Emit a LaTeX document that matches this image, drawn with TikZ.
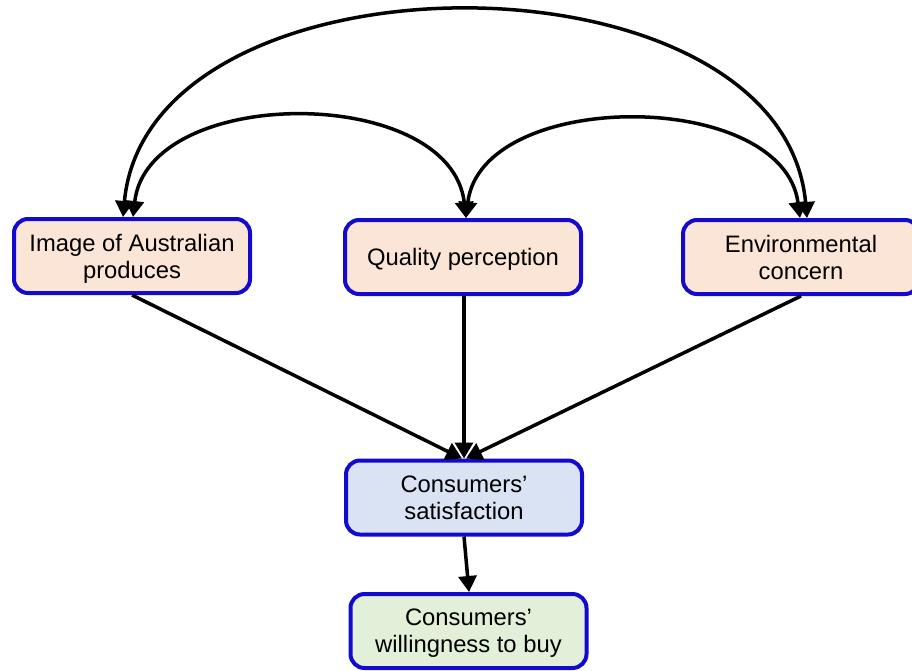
\documentclass[tikz,border=0pt]{standalone}
\usepackage{fontspec}
\setmainfont{Liberation Sans}
\usetikzlibrary{arrows.meta}
\definecolor{boxline}{RGB}{20,10,205}
\definecolor{peach}{RGB}{251,229,214}
\definecolor{paleblue}{RGB}{218,227,243}
\definecolor{palegreen}{RGB}{226,240,217}
\begin{document}
\begin{tikzpicture}[x=1pt,y=-1pt,
  box/.style={draw=boxline, line width=4pt, rounded corners=14pt,
    minimum width=236pt, minimum height=74pt, inner sep=0pt, align=center,
    font=\fontsize{23.8}{27}\selectfont},
  tip/.tip={Triangle[length=16pt,width=18pt]},
  link/.style={line width=3.5pt, -tip},
  twoway/.style={line width=3.5pt, tip-tip}]
\useasboundingbox (0,0) rectangle (912,670);
\clip (0,0) rectangle (912,670);

% factors
\node[box, fill=peach, text depth=-10pt] (img)  at (132,256) {Image of Australian\\produces};
\node[box, fill=peach, text depth=-10pt] (qual) at (463,257) {Quality perception};
\node[box, fill=peach, text depth=-4pt]  (env)  at (801,257) {Environmental\\concern};

% outcomes
\node[box, fill=paleblue]  (sat)  at (464,497.5) {Consumers’\\satisfaction};
\node[box, fill=palegreen, text depth=-10pt] (will) at (468.5,631) {Consumers’\\willingness to buy};

% correlations between the factors
\draw[twoway] ([xshift=-9pt]img.north) .. controls (148,-57) and (782,-57) .. ([xshift=6pt]env.north);
\draw[twoway] ([xshift=1pt]img.north) .. controls (148,84) and (451,84) .. ([xshift=3pt]qual.north);
\draw[twoway] ([xshift=3pt]qual.north) .. controls (481,88) and (783,88) .. ([xshift=-1pt]env.north);

% effects on satisfaction
\draw[link] (img.south) -- ([xshift=-2pt]sat.north);
\draw[link] ([xshift=1pt]qual.south) -- (sat.north);
\draw[link] (env.south) -- ([xshift=2pt]sat.north);
\draw[link] (sat.south) -- ([xshift=0.5pt]will.north);
\end{tikzpicture}
\end{document}
